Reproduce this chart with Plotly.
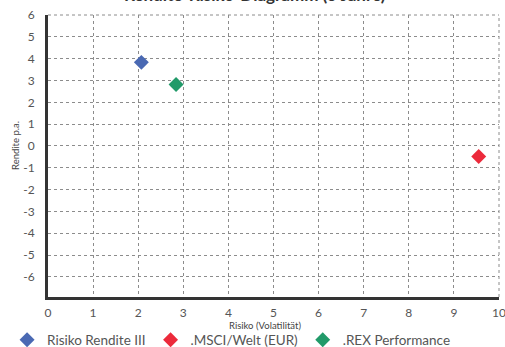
import plotly.graph_objects as go

# Risk/return per fund: volatility (x) and annual return (y), in percent
series_names = ["Risiko Rendite III", ".MSCI/Welt (EUR)", ".REX Performance"]
risk = [2.07, 9.55, 2.84]
ret = [3.83, -0.48, 2.82]
colors = ["#4a69b3", "#ec2a3b", "#219a69"]

x_ticks = list(range(0, 11))
y_ticks = list(range(-6, 7))

FONT = "Lato"
TXT = "#555555"

W, H = 505, 347
ML, MR, MT, MB = 48, 6, 15, 50
PW, PH = W - ML - MR, H - MT - MB


def px_to_paper(px, py):
    """Convert a page pixel position to paper coordinates."""
    return (px - ML) / PW, (H - MB - py) / PH


fig = go.Figure()
for name, x, y, c in zip(series_names, risk, ret, colors):
    fig.add_trace(go.Scatter(
        x=[x], y=[y], name=name, mode="markers",
        marker=dict(symbol="diamond", size=11.5, color=c, line=dict(width=0)),
        hoverinfo="skip",
    ))

grid = dict(showgrid=True, gridcolor="#8c8c8c", griddash="dot", gridwidth=1,
            zeroline=False, showline=True, linecolor="#333333", linewidth=3,
            ticks="", ticklabeloverflow="allow",
            tickfont=dict(family=FONT, size=12, color=TXT))

fig.update_layout(
    width=W, height=H,
    margin=dict(l=ML, r=MR, t=MT, b=MB, autoexpand=False),
    paper_bgcolor="white", plot_bgcolor="white",
    font=dict(family=FONT, color=TXT),
    showlegend=True,
    legend=dict(orientation="h", xref="container", yref="paper",
                x=0.014, y=px_to_paper(0, 340)[1], xanchor="left", yanchor="middle",
                bgcolor="rgba(0,0,0,0)",
                font=dict(family=FONT, size=13.5, color=TXT),
                itemclick=False, itemdoubleclick=False),
    xaxis=dict(range=[0, 10], tickvals=x_ticks, ticktext=[str(v) for v in x_ticks],
               ticklabelstandoff=3, **grid),
    yaxis=dict(range=[-6.92, 6], tickvals=y_ticks, ticktext=[str(v) for v in y_ticks],
               ticklabelstandoff=8, **grid),
)

# outer frame: dotted top and right edges
fig.add_shape(type="line", xref="paper", yref="paper", x0=0, x1=1, y0=1, y1=1,
              line=dict(color="#8c8c8c", width=1, dash="dot"))
fig.add_shape(type="line", xref="paper", yref="paper", x0=1, x1=1, y0=0, y1=1,
              line=dict(color="#8c8c8c", width=1, dash="dot"))

# axis titles
tx, ty = px_to_paper(265, 325)
fig.add_annotation(text="Risiko (Volatilität)", xref="paper", yref="paper",
                   x=tx, y=ty, xanchor="center", yanchor="middle",
                   showarrow=False, font=dict(family=FONT, size=9.5, color="#444444"))
tx, ty = px_to_paper(16, 146)
fig.add_annotation(text="Rendite p.a.", xref="paper", yref="paper",
                   x=tx, y=ty, xanchor="center", yanchor="middle",
                   textangle=-90, showarrow=False,
                   font=dict(family=FONT, size=9.5, color="#444444"))

fig.add_annotation(text="Rendite-Risiko-Diagramm (5 Jahre)", xref="paper", yref="paper",
                   x=0.46, y=1, xanchor="center", yanchor="bottom", yshift=8,
                   showarrow=False,
                   font=dict(family=FONT, size=17, color="#333333", weight="bold"))

fig.write_html("out.html")
